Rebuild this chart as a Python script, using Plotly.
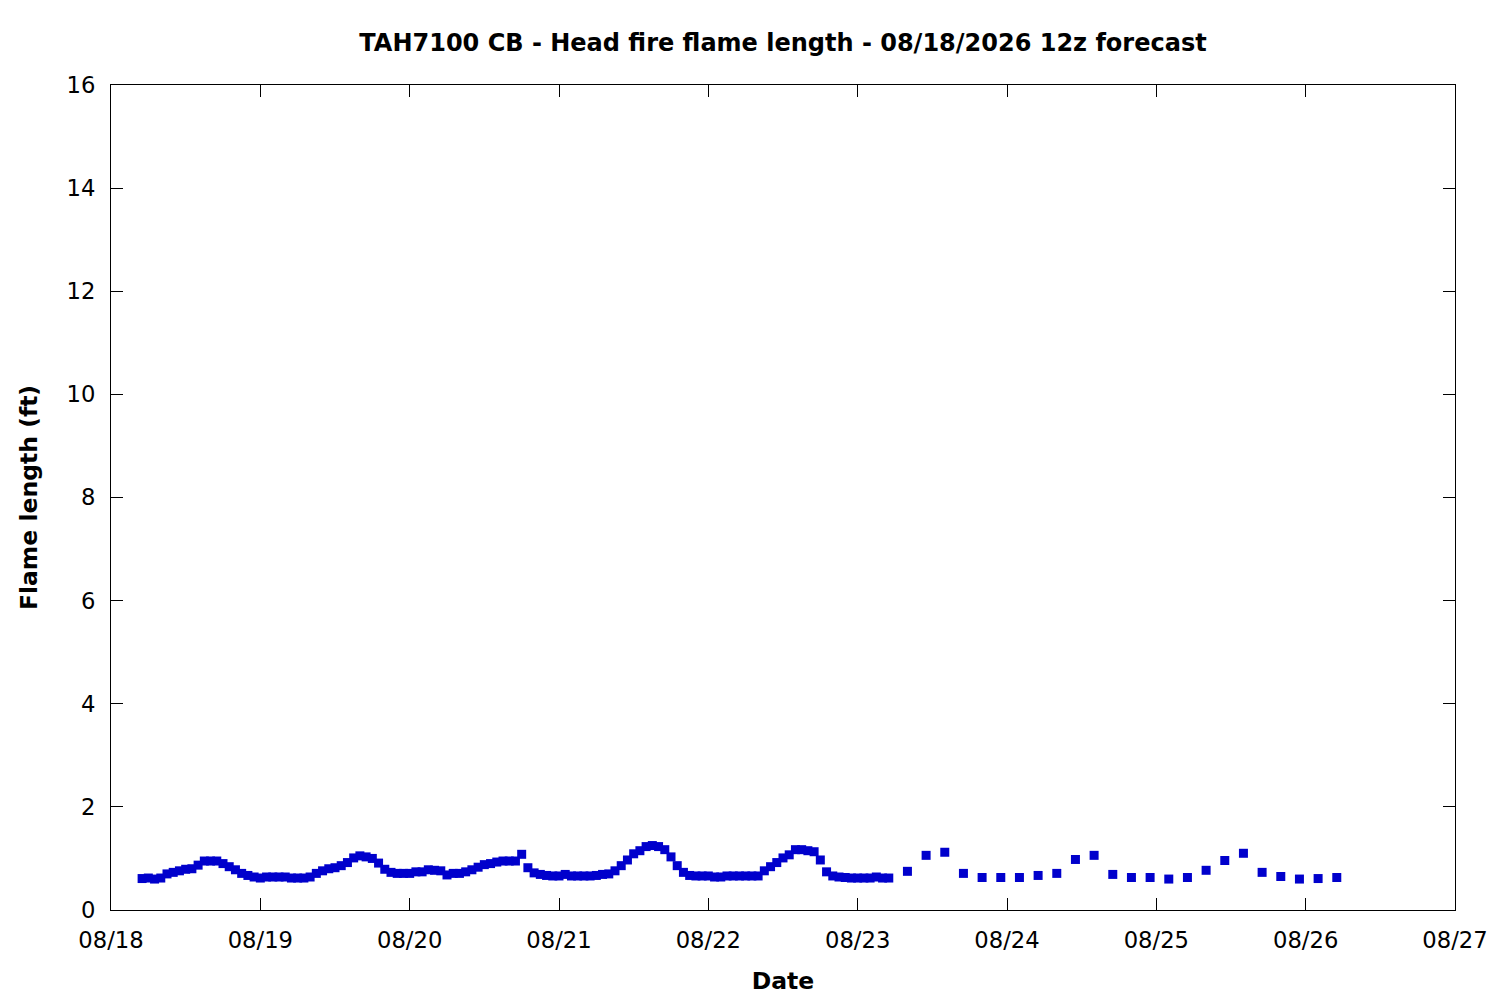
import pandas as pd
import plotly.graph_objects as go

# Hourly values 08/18 05:00 .. 08/23 05:00
hourly_start = "2026-08-18 05:00"
hourly_vals = [
    0.61, 0.62, 0.60, 0.62, 0.70, 0.73, 0.76, 0.79, 0.80, 0.87,
    0.95, 0.95, 0.95, 0.90, 0.84, 0.78, 0.71, 0.67, 0.64, 0.62,
    0.64, 0.64, 0.64, 0.64, 0.62, 0.62, 0.62, 0.64, 0.71, 0.76,
    0.80, 0.82, 0.86, 0.92, 1.01, 1.05, 1.03, 1.00, 0.91, 0.79,
    0.73, 0.71, 0.71, 0.71, 0.74, 0.74, 0.78, 0.77, 0.76, 0.68,
    0.71, 0.71, 0.74, 0.78, 0.83, 0.88, 0.90, 0.93, 0.95, 0.95,
    0.95, 1.08, 0.82, 0.72, 0.69, 0.67, 0.66, 0.66, 0.69, 0.66,
    0.66, 0.66, 0.66, 0.67, 0.69, 0.70, 0.76, 0.86, 0.97, 1.09,
    1.15, 1.23, 1.25, 1.23, 1.17, 1.03, 0.86, 0.73, 0.67, 0.66,
    0.66, 0.66, 0.64, 0.64, 0.66, 0.66, 0.66, 0.66, 0.66, 0.66,
    0.76, 0.84, 0.92, 1.01, 1.07, 1.17, 1.17, 1.15, 1.13, 0.97,
    0.74, 0.66, 0.64, 0.63, 0.62, 0.62, 0.62, 0.62, 0.64, 0.62,
    0.62,
]

# 3-hourly values 08/23 08:00 .. 08/26 05:00
three_hr_start = "2026-08-23 08:00"
three_hr_vals = [
    0.75, 1.06, 1.12, 0.71, 0.63, 0.63, 0.63, 0.67, 0.71, 0.98,
    1.06, 0.69, 0.63, 0.63, 0.60, 0.63, 0.77, 0.96, 1.10, 0.73,
    0.65, 0.60, 0.61, 0.63,
]

x_range = ["2026-08-18", "2026-08-27"]
y_ticks = [0, 2, 4, 6, 8, 10, 12, 14, 16]

x_hourly = pd.date_range(hourly_start, periods=len(hourly_vals), freq="h")
x_3hr = pd.date_range(three_hr_start, periods=len(three_hr_vals), freq="3h")
x_all = list(x_hourly) + list(x_3hr)
y_all = hourly_vals + three_hr_vals

FONT = "DejaVu Sans"

fig = go.Figure()
fig.add_trace(go.Scatter(
    x=x_all, y=y_all, mode="markers",
    marker=dict(symbol="square", size=9, color="#0000CC", line=dict(width=0)),
    showlegend=False, hoverinfo="skip",
))

fig.update_layout(
    width=1500, height=1000,
    margin=dict(l=103, r=53, t=77, b=98),
    paper_bgcolor="white", plot_bgcolor="white",
    font=dict(family=FONT, size=23, color="black"),
    title=dict(
        text="<b>TAH7100 CB - Head fire flame length - 08/18/2026 12z forecast</b>",
        x=0.5, xanchor="center", xref="paper",
        y=1 - 35 / 1000, yanchor="middle", yref="container",
        font=dict(family=FONT, size=24, color="black"),
    ),
)

fig.update_xaxes(
    type="date", range=x_range, tickformat="%m/%d", dtick=86400000,
    tick0="2026-08-18",
    ticks="inside", ticklen=12, tickwidth=1, tickcolor="black",
    showline=True, linecolor="black", linewidth=1, mirror="ticks",
    showgrid=False, zeroline=False,
    ticklabelstandoff=10,
    title=dict(text="<b>Date</b>", font=dict(family=FONT, size=23.5), standoff=20),
    tickfont=dict(family=FONT, size=22.7),
)
fig.update_yaxes(
    range=[0, 16], tickvals=y_ticks,
    ticks="inside", ticklen=12, tickwidth=1, tickcolor="black",
    showline=True, linecolor="black", linewidth=1, mirror="ticks",
    showgrid=False, zeroline=False,
    ticklabelstandoff=10,
    title=dict(text="<b>Flame length (ft)</b>", font=dict(family=FONT, size=23.5), standoff=22),
    tickfont=dict(family=FONT, size=22.7),
)

fig.write_html("out.html")
